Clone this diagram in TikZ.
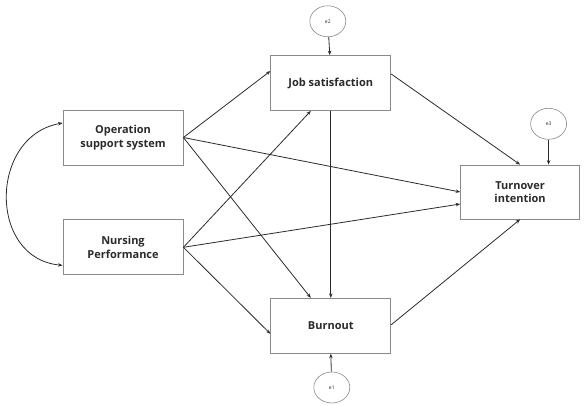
\documentclass[tikz,border=0pt]{standalone}
\usepackage{fontspec}
\setmainfont{Open Sans}
\usepackage{tikz}
\usetikzlibrary{positioning,arrows.meta,shapes.geometric}
\definecolor{ink}{HTML}{2B2B2B}
\definecolor{frame}{HTML}{8A8A8A}
\tikzset{
  var/.style={rectangle,draw=frame,line width=0.8pt,fill=white,align=center,
    minimum width=120pt,minimum height=55pt,inner sep=2pt,
    font=\fontsize{11}{13.5}\selectfont\bfseries,text=ink},
  err/.style={ellipse,draw=frame,line width=0.6pt,minimum width=36pt,
    minimum height=31pt,inner sep=0pt,font=\fontsize{5}{6}\selectfont,text=ink},
  ar/.style={-{Stealth[length=4.5pt,width=3.5pt]},line width=0.8pt,draw=ink},
}
\begin{document}
\begin{tikzpicture}
  \useasboundingbox (0,0) rectangle (587pt,-406pt);
  \node[var] (oss) at (123pt,-137.5pt) {Operation\\support system};
  \node[var,below=54pt of oss] (np) {Nursing\\Performance};
  \node[var,right=87pt of oss,yshift=54.5pt] (js) {Job satisfaction};
  \node[var,right=87pt of np,yshift=-78.5pt] (bo) {Burnout};
  \node[var,right=69pt of js,yshift=-109pt,minimum width=119pt,minimum height=54pt] (ti) {Turnover\\intention};
  \node[err,above=18pt of js,xshift=-3pt] (e2) {e2};
  \node[err,above=25pt of ti,xshift=28.5pt] (e3) {e3};
  \node[err,below=18pt of bo,xshift=1pt] (e1) {e1};
  % correlation
  \draw[{Stealth[length=4.5pt,width=3.5pt]}-{Stealth[length=4.5pt,width=3.5pt]},line width=0.8pt,draw=ink]
    ([yshift=14.5pt]oss.west) to[out=190,in=175,looseness=1.35] ([yshift=-18pt]np.west);
  % paths
  \draw[ar] (oss.east) -- ([yshift=12pt]js.west);
  \draw[ar] (oss.east) -- (ti.west);
  \draw[ar] (oss.east) -- ([xshift=-20pt]bo.north);
  \draw[ar] (np.east) -- ([xshift=-20pt]js.south);
  \draw[ar] (np.east) -- ([yshift=-12pt]ti.west);
  \draw[ar] (np.east) -- ([yshift=-8pt]bo.west);
  \draw[ar] (js.south) -- (bo.north);
  \draw[ar] ([yshift=9pt]js.east) -- (ti.north);
  \draw[ar] ([yshift=1pt]bo.east) -- (ti.south);
  % errors
  \draw[ar] (e2) -- ([xshift=-1pt]js.north);
  \draw[ar] (e3) -- ([xshift=28.5pt]ti.north);
  \draw[ar] (e1) -- (bo.south);
\end{tikzpicture}
\end{document}
